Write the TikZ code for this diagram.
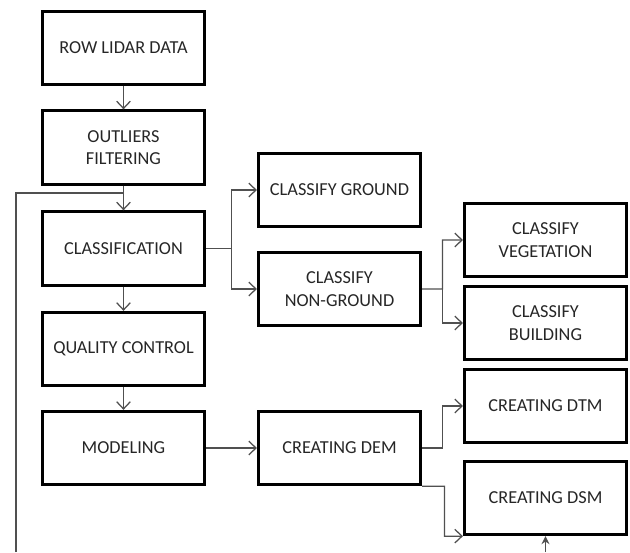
\documentclass[tikz,border=0pt]{standalone}
\usepackage{fontspec}
\setmainfont{Carlito}
\usetikzlibrary{arrows.meta, positioning, calc}
\definecolor{cline}{HTML}{505050}
\definecolor{ctext}{HTML}{262626}
\tikzset{
  every picture/.style={font=\fontsize{13}{16}\selectfont, line width=0.9pt},
  box/.style={draw=black, line width=2.2pt, align=center, text=ctext, minimum width=4.05cm, minimum height=1.83cm, inner sep=0pt},
  arrow/.style={-{Straight Barb[length=1.8mm, width=3.4mm]}, draw=cline, line width=0.9pt},
  link/.style={draw=cline, line width=0.9pt},
}

\begin{document}
\begin{tikzpicture}[x=0.025cm, y=-0.025cm]
  \useasboundingbox (0,0) rectangle (630,552);
  \foreach \n/\x/\y/\txt in {
    raw/123.5/48/{ROW LIDAR DATA},
    outl/123.5/147.5/{OUTLIERS\\FILTERING},
    cls/123.5/248.5/{CLASSIFICATION},
    qc/123.5/349/{QUALITY CONTROL},
    mod/123.5/448/{MODELING},
    gnd/339.5/190/{CLASSIFY GROUND},
    ngnd/339.5/289/{CLASSIFY\\NON-GROUND},
    veg/545.5/240/{CLASSIFY\\VEGETATION},
    bld/545.5/323/{CLASSIFY\\BUILDING},
    dem/339.5/448/{CREATING DEM},
    dtm/545.5/406/{CREATING DTM},
    dsm/545.5/498/{CREATING DSM}} {
    \node[box] (\n) at (\x, \y) {\txt};
  }
  % main column
  \draw[arrow] (raw) -- (outl);
  \draw[arrow] (outl) -- (cls);
  \draw[arrow] (cls) -- (qc);
  \draw[arrow] (qc) -- (mod);
  \draw[arrow] (mod) -- (dem);
  % branches
  \coordinate (s1) at ($(cls.east)!0.5!(gnd.west |- cls.east)$);
  \draw[arrow] (cls.east) -- (s1) |- (gnd.west);
  \draw[arrow] (s1) |- (ngnd.west);
  \coordinate (s2) at ($(ngnd.east)!0.5!(veg.west |- ngnd.east)$);
  \draw[arrow] (ngnd.east) -- (s2) |- (veg.west);
  \draw[arrow] (s2) |- (bld.west);
  \coordinate (s3) at ($(dem.east)!0.5!(dtm.west |- dem.east)$);
  \draw[arrow] (dem.east) -- (s3) |- (dtm.west);
  \coordinate (s4) at ($(dem.south east)!0.55!(dsm.south west |- dem.south east)$);
  \draw[arrow] (dem.south east) -- (s4) |- (dsm.south west);
  % feedback
  \coordinate (fbjoin) at ($(outl.south)!0.3!(cls.north)$);
  \coordinate (fbbot) at (16, 552);
  \coordinate (dsmin) at (dsm.south |- fbbot);
  \draw[link] (fbbot) |- (fbjoin);
  \draw[link, -{Stealth[length=2mm, width=2mm]}] (dsmin) -- (dsm.south);
\end{tikzpicture}
\end{document}
